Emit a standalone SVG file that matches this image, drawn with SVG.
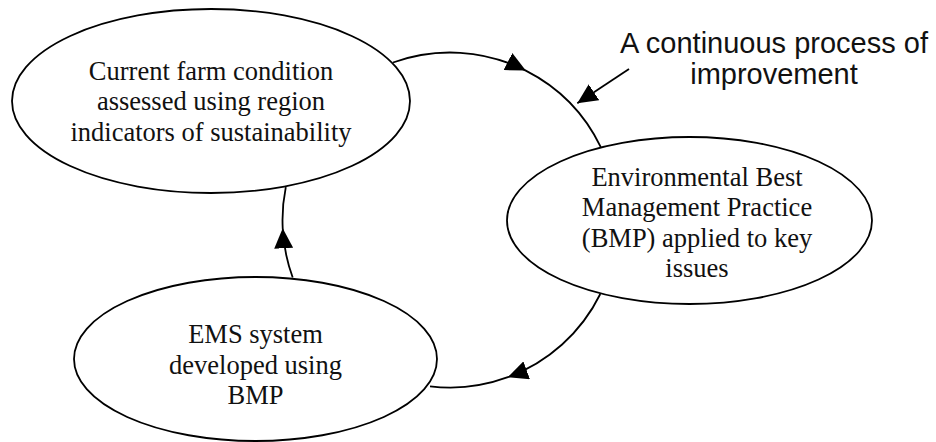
<svg xmlns="http://www.w3.org/2000/svg" width="936" height="442" viewBox="0 0 936 442">
  <style>
    .node ellipse { fill: #ffffff; stroke: #000000; stroke-width: 1.8; }
    .node text { font-family: "Liberation Serif", "Times New Roman", serif; font-size: 26.5px; fill: #111111; text-anchor: middle; }
    .conn { fill: none; stroke: #000000; stroke-width: 1.8; }
    .note { font-family: "Liberation Sans", Arial, sans-serif; font-size: 29px; fill: #111111; text-anchor: middle; }
  </style>
  <defs>
    <marker id="tri" viewBox="0 0 20 19" refX="20" refY="9.5" markerWidth="20" markerHeight="19" markerUnits="userSpaceOnUse" orient="auto">
      <path d="M0,0 L20,9.5 L0,19 Z" fill="#000000"/>
    </marker>
  </defs>
  <rect width="936" height="442" fill="#ffffff"/>

  <g id="connectors">
    <path class="conn" marker-mid="url(#tri)" d="M393,62.5 A167.5,167.5 0 0 1 525.8,70.6 A167.5,167.5 0 0 1 600.8,147.1"/>
    <path class="conn" marker-mid="url(#tri)" d="M600.3,294 A167.5,167.5 0 0 1 507.9,377.2 A167.5,167.5 0 0 1 430,386.3"/>
    <path class="conn" marker-mid="url(#tri)" d="M292.7,277.5 A167.5,167.5 0 0 1 282.7,228.3 A167.5,167.5 0 0 1 285.8,187.1"/>
  </g>

  <g id="node-current" class="node">
    <ellipse cx="211" cy="101" rx="199" ry="92"/>
    <text x="211" y="79.5">Current farm condition</text>
    <text x="211" y="110">assessed using region</text>
    <text x="211" y="140.5">indicators of sustainability</text>
  </g>

  <g id="node-bmp" class="node">
    <ellipse cx="689.5" cy="220.5" rx="182.5" ry="83.5"/>
    <text x="697" y="185.5">Environmental Best</text>
    <text x="697" y="216">Management Practice</text>
    <text x="697" y="246.5">(BMP) applied to key</text>
    <text x="697" y="277">issues</text>
  </g>

  <g id="node-ems" class="node">
    <ellipse cx="255.5" cy="359" rx="181.5" ry="82"/>
    <text x="255.5" y="343.3">EMS system</text>
    <text x="255.5" y="373.5">developed using</text>
    <text x="255.5" y="404">BMP</text>
  </g>

  <g id="annotation">
    <text class="note" x="774" y="53.3">A continuous process of</text>
    <text class="note" x="774" y="84">improvement</text>
    <line class="conn" x1="629" y1="69" x2="577.3" y2="103.3" marker-end="url(#tri)"/>
  </g>
</svg>
